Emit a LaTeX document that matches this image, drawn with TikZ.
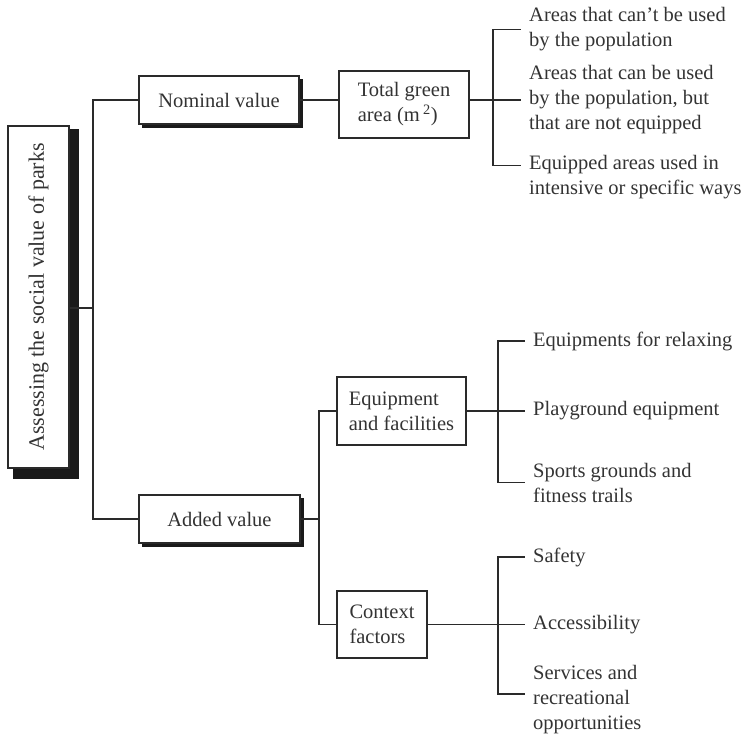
\documentclass[tikz,border=0pt]{standalone}
\usepackage{fontspec}
\setmainfont{Liberation Serif}
\usepackage{graphicx}
\usetikzlibrary{backgrounds}
\definecolor{txt}{HTML}{333333}
\definecolor{ln}{HTML}{2A2A2A}
\definecolor{shd}{HTML}{1A1A1A}
\begin{document}
\begin{tikzpicture}[x=1bp,y=-1bp,
  every node/.style={font=\fontsize{20.5bp}{25bp}\selectfont, text=txt},
  box/.style={draw=ln, fill=white, inner sep=0pt, align=left},
  leaf/.style={anchor=west, inner xsep=8bp, inner ysep=0pt, align=left},
  conn/.style={draw=ln, line width=1.7bp},
  shadowfill/.style={fill=shd}
]
\useasboundingbox (0,0) rectangle (741,736);

% boxes
\node[box, line width=1.6bp, minimum width=61bp, minimum height=342bp] (main) at (38.5,297)
  {\fontsize{22bp}{26bp}\selectfont\rotatebox{90}{Assessing the social value of parks}};
\node[box, line width=1.9bp, minimum width=160bp, minimum height=48bp] (nominal) at (219,100) {Nominal value};
\node[box, line width=1.4bp, minimum width=130bp, minimum height=67bp] (total) at (404,104.5) {Total green\\area (m\,\textsuperscript{2})};
\node[box, line width=1.9bp, minimum width=161bp, minimum height=48bp] (added) at (219.5,519) {Added value};
\node[box, line width=1.4bp, minimum width=129bp, minimum height=68bp] (equip) at (401.5,411) {Equipment\\and facilities};
\node[box, line width=1.4bp, minimum width=90bp, minimum height=67bp] (context) at (382,624.5) {Context\\factors};

% shadows
\begin{scope}[on background layer]
\fill[shadowfill] ([xshift=6bp,yshift=-4bp]main.north west) rectangle ([xshift=9bp,yshift=-10bp]main.south east);
\fill[shadowfill] ([xshift=3.5bp,yshift=-3.5bp]nominal.north west) rectangle ([xshift=3.5bp,yshift=-3.5bp]nominal.south east);
\fill[shadowfill] ([xshift=3.5bp,yshift=-3.5bp]added.north west) rectangle ([xshift=3.5bp,yshift=-3.5bp]added.south east);
\end{scope}

% leaves
\node[leaf] (a1) at (521,29.5) {Areas that can't be used\\by the population};
\node[leaf] (a2) at (521,100) {Areas that can be used\\by the population, but\\that are not equipped};
\node[leaf] (a3) at (521,177.5) {Equipped areas used in\\intensive or specific ways};
\node[leaf] (b1) at (525,341) {Equipments for relaxing};
\node[leaf] (b2) at (525,411) {Playground equipment};
\node[leaf] (b3) at (525,482.5) {Sports grounds and\\fitness trails};
\node[leaf] (c1) at (525,557) {Safety};
\node[leaf] (c2) at (525,624.5) {Accessibility};
\node[leaf] (c3) at (525,700) {Services and\\recreational\\opportunities};

% junctions
\coordinate (t0) at (93,308);
\coordinate (t1) at (319,519);
\coordinate (f1) at (493,100);
\coordinate (f2) at (498,411);
\coordinate (f3) at (498,624.5);

% connectors
\draw[conn] ([yshift=-11bp]main.east) -- (t0);
\draw[conn] (nominal.west) -| (t0) |- (added.west);
\draw[conn] (nominal.east) -- (total.west |- nominal.east);
\draw[conn] (total.east |- f1) -- (f1);
\draw[conn] (f1) |- (a1.west);
\draw[conn] (f1) -- (a2.west);
\draw[conn] (f1) |- ([yshift=12bp]a3.west);

\draw[conn] (added.east) -- (t1);
\draw[conn] (equip.west) -| (t1) |- (context.west);

\draw[conn] (equip.east) -- (f2);
\draw[conn] (f2) |- (b1.west);
\draw[conn] (f2) -- (b2.west);
\draw[conn] (f2) |- (b3.west);

\draw[conn] (context.east) -- (f3);
\draw[conn] (f3) |- (c1.west);
\draw[conn] (f3) -- (c2.west);
\draw[conn] (f3) |- ([yshift=6bp]c3.west);
\end{tikzpicture}
\end{document}
